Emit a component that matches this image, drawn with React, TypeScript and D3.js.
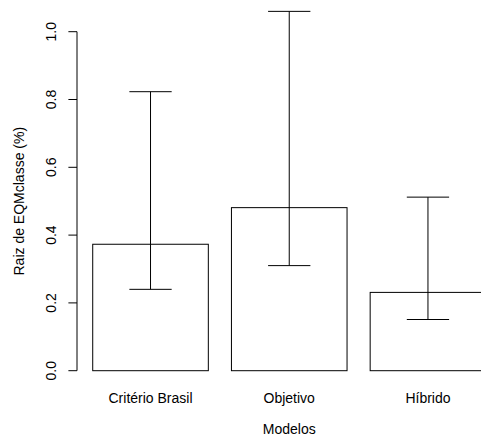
import React from "react";
import * as d3 from "d3";

const categories = ["Critério Brasil", "Objetivo", "Híbrido"];
const values = [0.373, 0.481, 0.231];
const lower = [0.24, 0.31, 0.151];
const upper = [0.823, 1.06, 0.512];
const yTicks = [0, 0.2, 0.4, 0.6, 0.8, 1.0];

const W = 481;
const H = 441;

export default function App() {
  // R barplot layout: width 1, space 0.2; xlim [0.2, 3.6] extended 4%
  const x = d3.scaleLinear().domain([0.064, 3.736]).range([77, 77 + 3.672 * 115.6]);
  const y = d3.scaleLinear().domain([0, 1]).range([370.7, 31.7]);
  const capHalf = 0.183;
  const font = "'Liberation Sans', Arial, Helvetica, sans-serif";
  const axisX = 77;

  return (
    <div style={{ position: "absolute", left: 0, top: 0, width: W, height: H, overflow: "hidden" }}>
      <svg width={W} height={H} fontFamily={font} fontSize={14} style={{ display: "block" }}>
        <rect x={0} y={0} width={W} height={H} fill="#fff" />
        {values.map((v, i) => {
          const l = 0.2 + 1.2 * i;
          const r = l + 1;
          return (
            <rect
              key={i}
              x={x(l)}
              y={y(v)}
              width={x(r) - x(l)}
              height={y(0) - y(v)}
              fill="#fff"
              stroke="#000"
              strokeWidth={1}
            />
          );
        })}
        {values.map((v, i) => {
          const c = 0.7 + 1.2 * i;
          return (
            <g key={"e" + i} stroke="#000" strokeWidth={1}>
              <line x1={x(c)} x2={x(c)} y1={y(lower[i])} y2={y(upper[i])} />
              <line x1={x(c - capHalf)} x2={x(c + capHalf)} y1={y(upper[i])} y2={y(upper[i])} />
              <line x1={x(c - capHalf)} x2={x(c + capHalf)} y1={y(lower[i])} y2={y(lower[i])} />
            </g>
          );
        })}
        <line x1={axisX} x2={axisX} y1={y(0)} y2={y(1)} stroke="#000" strokeWidth={1} />
        {yTicks.map((t) => (
          <g key={t}>
            <line x1={axisX - 8.6} x2={axisX} y1={y(t)} y2={y(t)} stroke="#000" strokeWidth={1} />
            <text
              transform={`translate(${56},${y(t)}) rotate(-90)`}
              textAnchor="middle"
              fill="#000"
            >
              {t.toFixed(1)}
            </text>
          </g>
        ))}
        {categories.map((cat, i) => (
          <text key={cat} x={x(0.7 + 1.2 * i)} y={403} textAnchor="middle" fill="#000">
            {cat}
          </text>
        ))}
        <text x={x(1.9)} y={434} textAnchor="middle" fill="#000">
          Modelos
        </text>
        <text
          transform={`translate(${23.5},${(y(0) + y(1)) / 2}) rotate(-90)`}
          textAnchor="middle"
          fill="#000"
        >
          Raiz de EQMclasse (%)
        </text>
      </svg>
    </div>
  );
}
